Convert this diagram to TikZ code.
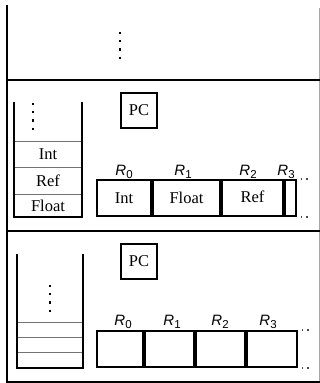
\documentclass[tikz,border=0pt]{standalone}
\usepackage{fontspec}
\setmainfont{Liberation Serif}
\newfontfamily\helv{Liberation Sans}
\newcommand{\regname}[1]{{\helv\fontsize{15}{16}\selectfont\textit{R}\kern0.2pt\raisebox{-0.2em}{\fontsize{11.5}{12}\selectfont #1}}}
\begin{document}
\begin{tikzpicture}[x=1pt,y=-1pt,
  frame/.style={line width=2pt,black},
  edgeline/.style={line width=0.8pt,black!35},
  wall/.style={line width=2pt,black,line cap=rect},
  divider/.style={line width=1pt,black!55},
  vdots/.style={line width=2.2pt,dash pattern=on 2.2pt off 6pt},
  more/.style={line width=1.2pt,black!70,dash pattern=on 1.3pt off 4pt},
  pcbox/.style={draw,line width=2pt,minimum width=36pt,minimum height=35pt,inner sep=0pt,font=\fontsize{16.5}{17}\selectfont},
  reg/.style={draw,line width=2pt,minimum height=36pt,inner sep=0pt,font=\fontsize{16.5}{17}\selectfont},
  cell/.style={inner sep=0pt,font=\fontsize{16.5}{17}\selectfont},
  rlabel/.style={inner sep=0pt,anchor=base}
]
\useasboundingbox (0,0) rectangle (320,383);

% outer frame of the three frames
\coordinate (tl) at (7,5);
\coordinate (bl) at (7,381.5);
\coordinate (br) at (320,381.5);
\coordinate (s1l) at (7,80);
\coordinate (s1r) at (320,80);
\coordinate (s2l) at (7,231);
\coordinate (s2r) at (320,231);
\coordinate (et) at (319.3,8);
\coordinate (eb) at (319.3,383);
\draw[edgeline] (et) -- (eb);
\draw[frame] (tl) -- (bl) -- (br);
\draw[frame] (s1l) -- (s1r);
\draw[frame] (s2l) -- (s2r);

% frames above
\coordinate (d0a) at (120,32);
\coordinate (d0b) at (120,59);
\draw[vdots] (d0a) -- (d0b);

% ---------- middle frame ----------
\coordinate (m1) at (14,103);
\coordinate (m2) at (14,217);
\coordinate (m3) at (82,217);
\coordinate (m4) at (82,103);
\coordinate (md1a) at (14,141);   \coordinate (md1b) at (82,141);
\coordinate (md2a) at (14,167.5); \coordinate (md2b) at (82,167.5);
\coordinate (md3a) at (14,194);   \coordinate (md3b) at (82,194);
\draw[divider] (md1a) -- (md1b);
\draw[divider] (md2a) -- (md2b);
\draw[divider] (md3a) -- (md3b);
\draw[wall] (m1) -- (m2) -- (m3) -- (m4);
\coordinate (mda) at (33,103);
\coordinate (mdb) at (33,130);
\draw[vdots] (mda) -- (mdb);
\node[cell] (mint) at (48,154) {Int};
\node[cell] (mref) at (48,180.5) {Ref};
\node[cell] (mflt) at (48,205.5) {Float};

\node[pcbox] (mpc) at (139,110.5) {PC};

\node[reg,minimum width=54pt] (mr0) at (124,198) {Int};
\node[reg,minimum width=67pt,anchor=west] (mr1) at (mr0.east) {Float};
\node[reg,minimum width=61pt,anchor=west] (mr2) at (mr1.east) {\raisebox{2pt}{Ref}};
\node[reg,minimum width=11pt,anchor=west] (mr3) at (mr2.east) {};
\node[rlabel] (ml0) at (124,175) {\regname{0}};
\node[rlabel] (ml1) at (183,175) {\regname{1}};
\node[rlabel] (ml2) at (248,175) {\regname{2}};
\node[rlabel] (ml3) at (286,175) {\regname{3}};
\draw[more] (mr3.north east) ++(4,0) -- ++(10,0);
\draw[more] (mr3.south east) ++(4,0) -- ++(10,0);

% ---------- bottom frame ----------
\coordinate (b1) at (17,255);
\coordinate (b2) at (17,368);
\coordinate (b3) at (83,368);
\coordinate (b4) at (83,255);
\coordinate (bd1a) at (17,322.5); \coordinate (bd1b) at (83,322.5);
\coordinate (bd2a) at (17,337.5); \coordinate (bd2b) at (83,337.5);
\coordinate (bd3a) at (17,352.5); \coordinate (bd3b) at (83,352.5);
\draw[divider] (bd1a) -- (bd1b);
\draw[divider] (bd2a) -- (bd2b);
\draw[divider] (bd3a) -- (bd3b);
\draw[wall] (b1) -- (b2) -- (b3) -- (b4);
\coordinate (bda) at (50,285);
\coordinate (bdb) at (50,312);
\draw[vdots] (bda) -- (bdb);

\node[pcbox] (bpc) at (139,261.5) {PC};

\node[reg,minimum width=46pt] (br0) at (120,349) {};
\node[reg,minimum width=49pt,anchor=west] (br1) at (br0.east) {};
\node[reg,minimum width=49pt,anchor=west] (br2) at (br1.east) {};
\node[reg,minimum width=50pt,anchor=west] (br3) at (br2.east) {};
\node[rlabel] (bl0) at (123,325.5) {\regname{0}};
\node[rlabel] (bl1) at (172,325.5) {\regname{1}};
\node[rlabel] (bl2) at (220,325.5) {\regname{2}};
\node[rlabel] (bl3) at (268,325.5) {\regname{3}};
\draw[more] (br3.north east) ++(4,0) -- ++(10,0);
\draw[more] (br3.south east) ++(4,0) -- ++(10,0);
\end{tikzpicture}
\end{document}
